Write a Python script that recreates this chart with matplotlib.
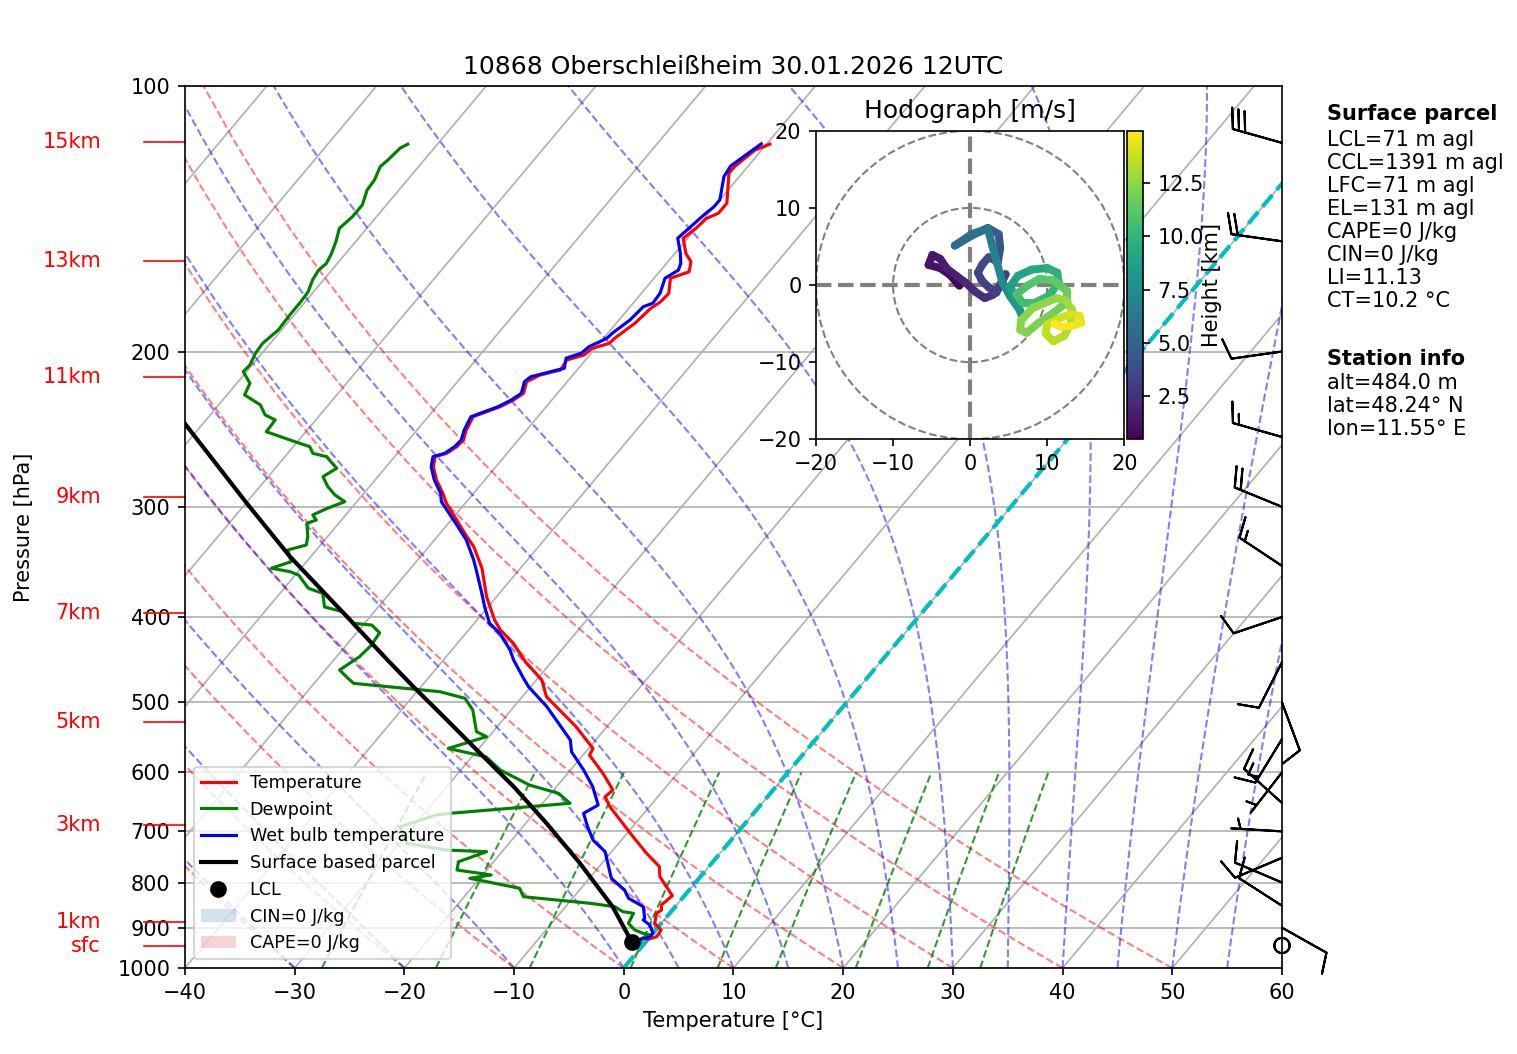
import numpy as np
import matplotlib
matplotlib.use('Agg')
import matplotlib.pyplot as plt
from matplotlib.collections import LineCollection
from matplotlib.colors import Normalize
from matplotlib.lines import Line2D
from matplotlib.patches import Patch, Circle

# ---- sounding data (pressure hPa, temperature degC) ----
temp_p = [927.8, 921.5, 905.6, 889.9, 866.9, 859.6, 848.4, 828.0, 787.9, 767.6,
          741.2, 709.8, 656.4, 639.5, 628.4, 601.5, 573.7, 563.7, 532.7, 492.5,
          471.5, 449.5, 428.4, 413.8, 403.1, 379.4, 352.2, 332.9, 324.3, 310.5,
          297.3, 289.6, 279.7, 270.2, 263.2, 260.9, 256.4, 252.0, 245.5, 237.1,
          231.0, 227.0, 223.0, 216.4, 212.7, 209.9, 204.5, 201.8, 198.4, 195.8,
          193.2, 185.8, 178.7, 175.6, 171.8, 165.2, 162.4, 158.2, 154.8, 148.8,
          145.0, 141.3, 139.4, 135.8, 125.6, 123.4, 118.2, 116.4]
temp_t = [0.0, 0.6, 0.5, -0.6, -1.2, -1.0, -1.4, -1.1, -3.7, -4.5,
          -6.7, -9.2, -13.6, -14.8, -14.6, -16.8, -19.4, -19.6, -22.8, -27.8,
          -29.5, -32.4, -34.9, -37.1, -38.4, -40.9, -43.5, -45.9, -47.3, -49.5,
          -51.7, -52.8, -54.4, -55.7, -56.3, -55.5, -55.1, -55.0, -55.5, -55.9,
          -54.2, -53.5, -53.1, -53.7, -53.0, -51.5, -51.7, -50.5, -50.3, -49.1,
          -49.0, -48.3, -48.0, -47.6, -47.5, -48.5, -47.3, -47.9, -49.0, -50.4,
          -50.0, -49.8, -49.1, -49.1, -51.2, -51.2, -50.6, -49.7]

dewp_p = [925.0, 917.5, 913.4, 905.6, 889.9, 866.9, 863.2, 852.2, 844.6, 830.2,
          812.1, 791.2, 784.4, 774.3, 757.7, 738.1, 735.0, 722.2, 691.6, 670.7,
          667.8, 650.5, 633.9, 620.2, 596.4, 576.2, 563.7, 546.7, 539.6, 509.9,
          494.6, 486.1, 475.6, 469.4, 459.3, 443.6, 430.3, 416.8, 408.5, 406.6,
          394.7, 389.6, 376.0, 371.1, 358.5, 355.4, 352.2, 346.2, 335.8, 331.4,
          324.3, 313.2, 310.5, 306.5, 301.2, 296.0, 290.9, 284.6, 277.3, 271.3,
          263.2, 260.9, 256.4, 252.0, 246.6, 239.1, 236.0, 229.9, 224.0, 217.3,
          210.8, 207.2, 200.9, 195.8, 189.1, 181.0, 175.6, 171.1, 165.9, 161.7,
          158.9, 154.8, 150.1, 145.0, 140.6, 136.4, 131.2, 127.8, 123.4, 121.3,
          117.6, 116.4]
dewp_t = [-0.6, -0.1, -0.9, -1.9, -3.0, -3.3, -4.4, -5.5, -8.0, -14.6,
          -15.6, -20.9, -19.2, -22.7, -23.2, -21.4, -25.2, -29.3, -31.2, -28.8,
          -27.7, -17.5, -19.3, -22.6, -26.4, -28.7, -32.8, -30.2, -31.5, -33.5,
          -35.1, -37.9, -46.4, -47.3, -48.7, -47.9, -47.7, -47.9, -49.2, -51.0,
          -52.8, -54.9, -56.1, -57.8, -59.7, -60.7, -62.7, -61.4, -62.6, -61.3,
          -61.8, -62.9, -62.3, -63.0, -62.2, -61.1, -62.5, -63.8, -65.0, -64.4,
          -66.2, -67.7, -68.5, -70.8, -73.6, -73.7, -75.0, -76.2, -78.4, -78.8,
          -80.3, -80.2, -80.6, -80.7, -80.3, -80.4, -80.4, -80.5, -81.0, -81.2,
          -81.0, -81.3, -81.8, -82.5, -82.2, -82.2, -82.9, -83.0, -83.5, -83.3,
          -83.1, -82.7]

wetb_p = [930.7, 927.8, 923.0, 913.4, 894.0, 882.2, 878.3, 852.2, 833.6, 815.7,
          791.2, 738.1, 716.0, 691.6, 667.8, 653.5, 622.9, 596.4, 568.7, 551.6,
          505.5, 479.8, 469.4, 447.5, 435.9, 417.4, 406.6, 389.6, 376.0, 353.7,
          344.6, 327.1, 314.6, 296.0, 289.6, 279.7, 270.2, 263.2, 260.9, 256.4,
          252.0, 245.5, 237.1, 231.0, 227.0, 223.0, 216.4, 213.6, 208.9, 203.5,
          200.9, 197.5, 193.2, 190.7, 184.2, 177.9, 176.3, 171.8, 165.2, 161.7,
          158.9, 154.8, 148.8, 144.4, 140.0, 137.0, 134.6, 126.7, 123.2, 118.7,
          116.3]
wetb_t = [-1.3, -0.6, 0.0, 0.0, -0.9, -1.9, -1.9, -2.9, -4.9, -5.9,
          -8.0, -10.6, -12.6, -14.1, -15.5, -14.8, -16.7, -18.8, -21.3, -22.3,
          -27.0, -30.2, -31.3, -33.6, -34.7, -36.9, -38.6, -40.3, -41.6, -43.9,
          -44.9, -47.1, -49.1, -52.3, -53.0, -54.6, -55.9, -56.5, -55.7, -55.3,
          -55.2, -55.7, -56.1, -54.4, -53.7, -53.3, -53.9, -53.7, -51.3, -51.9,
          -50.9, -50.7, -49.7, -49.6, -49.0, -48.8, -48.2, -48.3, -49.0, -48.4,
          -48.7, -49.5, -50.9, -50.6, -50.3, -50.0, -50.0, -51.4, -51.6, -50.9,
          -50.5]

parcel_p = [933.6, 852.2, 760.9, 685.5, 622.9, 571.1, 523.3, 479.8, 447.5,
            399.7, 341.6, 297.3, 241.2]
parcel_t = [-1.3, -5.7, -12.0, -18.1, -23.9, -29.5, -35.1, -40.7, -45.1,
            -52.1, -61.9, -69.9, -81.7]

lcl_p = 933.6
lcl_t = -1.3

# wind barbs (knots) on the right edge
barb_p = [943, 900, 850, 800, 750, 700, 650, 600, 550, 500, 450, 400, 350,
          300, 250, 200, 150, 116]
barb_u = [0.0, -8.7, 8.4, 9.2, 9.2, 5.0, 11.1, 3.1, 7.8, -3.5, 4.5, 9.5, 12.5,
          18.6, 14.4, 9.9, 19.8, 28.8]
barb_v = [0.0, 4.9, -5.4, -3.9, 3.9, -0.3, -10.0, 4.0, 12.8, 9.4, 8.9, 3.2, -8.3,
          -7.6, -4.1, 1.4, -2.8, -8.1]

# height markers on the left
height_labels = ['sfc', '1km', '3km', '5km', '7km', '9km', '11km', '13km', '15km']
height_p = [944.2, 886.8, 688.8, 526.1, 395.9, 292.4, 214.0, 157.9, 115.8]

# hodograph (m/s) with height (km)
hodo_z = [0.48, 0.8, 1.0, 1.15, 1.3, 1.45, 1.6, 1.8, 2.0, 2.2, 2.4, 2.6, 2.8, 3.0,
          3.1, 3.2, 3.35, 3.5, 3.65, 3.8, 3.95, 4.15, 4.4, 4.7, 5.0, 5.3, 5.6, 6.2,
          6.6, 6.9, 7.3, 7.6, 7.9, 8.1, 8.4, 8.6, 8.85, 9.1, 9.4, 9.65, 9.85, 10.1,
          10.3, 10.5, 10.7, 10.9, 11.1, 11.3, 11.5, 11.65, 11.8, 11.95, 12.1, 12.2,
          12.3, 12.45, 12.6, 12.75, 12.9, 13.05, 13.2, 13.35, 13.5, 13.65, 13.8,
          14.0, 14.2, 14.4, 14.6, 14.8, 14.95]
hodo_u = [-1.4, -2.6, -3.9, -5.4, -4.9, -3.9, -3.0, -1.8, -0.6, 0.7, 1.9, 2.9, 3.6, 4.6,
          3.4, 2.4, 1.5, 1.0, 1.6, 2.4, 3.6, 3.9, 3.7, 2.3, 0.2, -2.0, 0.2, 2.3,
          2.9, 3.5, 4.2, 5.2, 6.4, 6.7, 5.8, 5.2, 6.2, 8.0, 10.0, 11.3, 11.5, 10.2,
          8.4, 6.8, 6.0, 7.4, 9.0, 10.8, 12.6, 12.6, 10.8, 8.9, 7.3, 6.5,
          6.6, 8.1, 11.2, 12.4, 13.2, 13.1, 12.2, 10.8, 9.8, 10.0, 11.6,
          13.0, 14.2, 14.4, 13.2, 11.8, 10.9]
hodo_v = [-0.1, 1.3, 2.2, 2.6, 3.9, 3.4, 2.1, 1.2, 0.3, -0.9, -1.7, -1.3, -0.5, 1.4,
          -1.0, -0.3, 0.6, 1.6, 2.7, 3.6, 3.0, 4.8, 6.6, 7.4, 6.4, 5.1, 6.6, 7.3,
          5.0, 2.8, 0.3, -1.5, -3.2, -3.9, -1.6, -0.2, 1.2, 2.0, 2.2, 1.6, 0.3, -1.4,
          -2.3, -2.3, -1.2, -0.1, 0.8, 0.6, -0.8, -2.2, -3.6, -4.9, -6.2, -5.8,
          -4.6, -3.0, -1.7, -2.0, -3.2, -4.9, -6.6, -7.3, -6.3, -5.1, -4.3,
          -3.8, -4.0, -4.9, -5.3, -5.4, -5.0]

parcel_text = ['LCL=71 m agl', 'CCL=1391 m agl', 'LFC=71 m agl', 'EL=131 m agl',
               'CAPE=0 J/kg', 'CIN=0 J/kg', 'LI=11.13', 'CT=10.2 °C']
station_text = ['alt=484.0 m', 'lat=48.24° N', 'lon=11.55° E']

SKEW = 67.46  # degC of x shift per decade of pressure


def skew(t, p):
    return np.asarray(t, float) + SKEW * np.log10(1000.0 / np.asarray(p, float))


def moist_adiabats(t0, pres):
    rd, cp, lv, eps = 287.04749, 1004.6662, 2.50084e6, 0.6219569

    def slope(p, t):
        es = 6.112 * np.exp(17.67 * (t - 273.15) / (t - 29.65))
        rs = eps * es / (p - es)
        return (rd * t + lv * rs) / (p * (cp + lv * lv * rs * eps / (rd * t * t)))

    out = np.empty((len(pres), len(t0)))
    t = np.asarray(t0, float)
    out[0] = t
    for i in range(len(pres) - 1):
        h = pres[i + 1] - pres[i]
        k1 = slope(pres[i], t)
        k2 = slope(pres[i] + h / 2, t + h / 2 * k1)
        k3 = slope(pres[i] + h / 2, t + h / 2 * k2)
        k4 = slope(pres[i] + h, t + h * k3)
        t = t + h / 6 * (k1 + 2 * k2 + 2 * k3 + k4)
        out[i + 1] = t
    return out


fig = plt.figure(figsize=(1517 / 150, 1054 / 150), dpi=150)
ax = fig.add_axes([0.12195, 0.08159, 0.72314, 0.83681])
ax.set_yscale('log')
ax.set_ylim(1000, 100)
ax.set_xlim(-40, 60)
ax.set_yticks(range(100, 1001, 100))
ax.set_yticklabels([str(v) for v in range(100, 1001, 100)])
ax.minorticks_off()
ax.set_xticks(range(-40, 61, 10))
ax.grid(True, axis='y', color='#b0b0b0', lw=0.8, zorder=0)
ax.set_axisbelow(True)

# skewed isotherms
for t in range(-130, 61, 10):
    ax.plot([t, t + SKEW], [1000, 100], color='#b0b0b0', lw=0.8, zorder=0.5)

pres = np.linspace(1000, 100, 60)
for th in np.arange(-40, 51, 10):
    tt = (th + 273.15) * (pres / 1000.0) ** 0.2857 - 273.15
    ax.plot(skew(tt, pres), pres, color='r', ls='--', lw=1, alpha=0.5, zorder=1)

mpres = np.linspace(1000, 100, 200)
t0m = np.concatenate((np.arange(-40, 0, 10), np.arange(0, 61, 5))) + 273.15
mst = moist_adiabats(t0m, mpres) - 273.15
for j in range(mst.shape[1]):
    ax.plot(skew(mst[:, j], mpres), mpres, color='b', ls='--', lw=1, alpha=0.5, zorder=1)

wpres = np.linspace(1000, 600, 30)
for w in [0.0004, 0.001, 0.002, 0.004, 0.007, 0.01, 0.016, 0.024, 0.032]:
    e = wpres * w / (0.6219569 + w)
    le = np.log(e / 6.112)
    td = 243.5 * le / (17.67 - le)
    ax.plot(skew(td, wpres), wpres, color='g', ls='--', lw=1, alpha=0.8, zorder=1)

ax.plot([0, SKEW], [1000, 100], color='c', ls='--', lw=2, zorder=1.5)

ax.plot(skew(temp_t, temp_p), temp_p, color='r', lw=1.5, zorder=3)
ax.plot(skew(dewp_t, dewp_p), dewp_p, color='g', lw=1.5, zorder=3)
ax.plot(skew(wetb_t, wetb_p), wetb_p, color='b', lw=1.5, zorder=3)
ax.plot(skew(parcel_t, parcel_p), parcel_p, color='k', lw=2, zorder=3)
ax.plot(skew([lcl_t], [lcl_p]), [lcl_p], 'ko', ms=7, zorder=4)

trans = ax.get_yaxis_transform()
ax.barbs(np.ones(len(barb_p)), barb_p, barb_u, barb_v, transform=trans,
         clip_on=False, length=7, zorder=4)

for lab, p in zip(height_labels, height_p):
    ax.plot([-0.0374, 0], [p, p], color='r', lw=0.8, transform=trans, clip_on=False)
    ax.text(-0.0766, p, lab, color='r', ha='right', va='center', fontsize=10,
            transform=trans)

handles = [Line2D([], [], color='r', lw=1.5, label='Temperature'),
           Line2D([], [], color='g', lw=1.5, label='Dewpoint'),
           Line2D([], [], color='b', lw=1.5, label='Wet bulb temperature'),
           Line2D([], [], color='k', lw=2, label='Surface based parcel'),
           Line2D([], [], color='k', marker='o', ls='none', ms=7, label='LCL'),
           Patch(color='tab:blue', alpha=0.2, lw=0, label='CIN=0 J/kg'),
           Patch(color='tab:red', alpha=0.2, lw=0, label='CAPE=0 J/kg')]
ax.legend(handles=handles, loc='lower left', fontsize=8.4)

ax.set_title('10868 Oberschleißheim 30.01.2026 12UTC', fontsize=12)
ax.set_xlabel('Temperature [°C]')
ax.set_ylabel('Pressure [hPa]')
ax.yaxis.set_label_coords(-0.138, 0.5)

# hodograph inset
hax = fig.add_axes([0.53791, 0.58321, 0.20323, 0.29279])
hax.set_xlim(-20, 20)
hax.set_ylim(-20, 20)
hax.set_xticks([-20, -10, 0, 10, 20])
hax.set_yticks([-20, -10, 0, 10, 20])
for r in (10, 20):
    hax.add_patch(Circle((0, 0), r, fill=False, ec='grey', ls='--', lw=1, zorder=1))
hax.axhline(0, color='grey', ls='--', lw=2, zorder=1)
hax.axvline(0, color='grey', ls='--', lw=2, zorder=1)
pts = np.column_stack([hodo_u, hodo_v]).reshape(-1, 1, 2)
segs = np.concatenate([pts[:-1], pts[1:]], axis=1)
zmid = 0.5 * (np.array(hodo_z[:-1]) + np.array(hodo_z[1:]))
lc = LineCollection(segs, cmap='viridis', norm=Normalize(min(hodo_z), max(hodo_z)),
                    linewidth=3.8, capstyle='round', zorder=2)
lc.set_array(zmid)
hax.add_collection(lc)
hax.set_title('Hodograph [m/s]', fontsize=12)

cax = fig.add_axes([0.74311, 0.58321, 0.01015, 0.29279])
cb = fig.colorbar(lc, cax=cax)
cb.set_label('Height [km]', labelpad=-1)

# parcel / station info text
x0 = 1327 / 1517
fig.text(x0, 1 - 114 / 1054, 'Surface parcel', fontsize=10, fontweight='bold', va='center')
for i, s in enumerate(parcel_text):
    fig.text(x0, 1 - (140 + 23.0 * i) / 1054, s, fontsize=10, va='center')
fig.text(x0, 1 - 359 / 1054, 'Station info', fontsize=10, fontweight='bold', va='center')
for i, s in enumerate(station_text):
    fig.text(x0, 1 - (382.7 + 23.0 * i) / 1054, s, fontsize=10, va='center')

fig.savefig('out.png', dpi=150)
